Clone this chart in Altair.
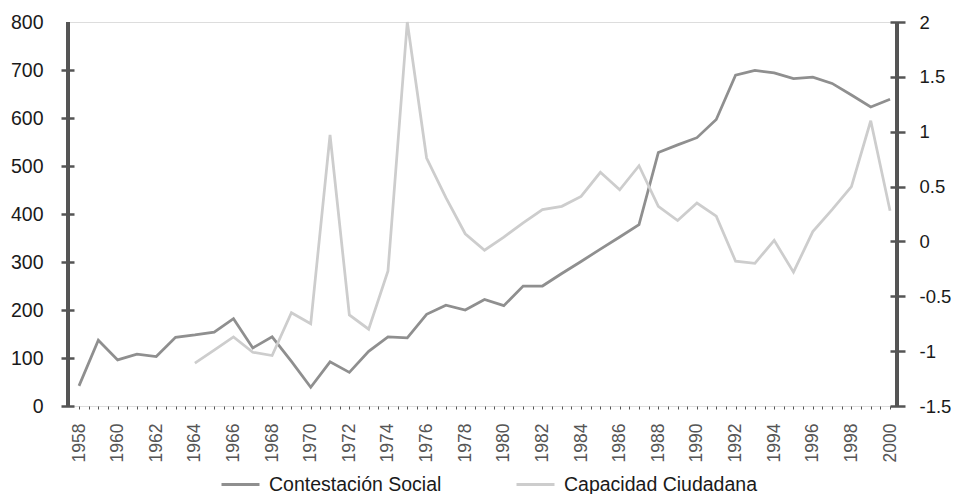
import altair as alt
import pandas as pd

years = list(range(1958, 2001))
contestacion = [42, 137, 96, 108, 103, 143, 148, 154, 182, 121, 144, 93, 39, 92, 70,
                114, 144, 142, 191, 210, 200, 222, 209, 250, 250, 276, 301, 327, 352, 378,
                528, 544, 559, 597, 689, 699, 694, 682, 685, 672, 648, 623, 639]
capacidad = [None, None, None, None, None, None,
             -1.11, -0.99, -0.87, -1.01, -1.04, -0.65, -0.75, 0.97, -0.67, -0.80,
             -0.27, 2.0, 0.76, 0.40, 0.07, -0.08, 0.04, 0.17, 0.29, 0.32, 0.41,
             0.63, 0.47, 0.69, 0.32, 0.19, 0.35, 0.23, -0.18, -0.20, 0.01, -0.28,
             0.09, 0.29, 0.50, 1.10, 0.28]
series_names = ["Contestación Social", "Capacidad Ciudadana"]
left_ticks = [0, 100, 200, 300, 400, 500, 600, 700, 800]
right_ticks = [-1.5, -1, -0.5, 0, 0.5, 1, 1.5, 2]

df_c = pd.DataFrame({"year": years, "value": contestacion, "series": series_names[0]})
df_k = pd.DataFrame({"year": years, "value": capacidad, "series": series_names[1]}).dropna()

W, H = 829, 384
AXIS = "#555555"
FONT = "Liberation Sans"

x_enc = alt.X(
    "year:Q",
    scale=alt.Scale(domain=[1957.43, 2000.36], nice=False, zero=False),
    axis=alt.Axis(
        values=[1958 + 0.5 * i for i in range(85)],
        labelExpr="datum.value % 2 == 0 ? toString(datum.value) : ''",
        labelAngle=270, labelFontSize=17.5, labelColor="#555555", labelFont=FONT,
        labelPadding=14, labelOverlap=False, labelBound=False, labelFlush=False,
        domain=False, tickSize=3, tickColor=AXIS, tickWidth=1, grid=False, title=None,
    ),
)

color_enc = alt.Color(
    "series:N",
    scale=alt.Scale(domain=series_names, range=["#8f8f8f", "#cdcdcd"]),
    legend=alt.Legend(
        orient="none", legendX=152, legendY=442, direction="horizontal", columns=2,
        title=None, symbolType="stroke", symbolSize=1444, symbolStrokeWidth=3,
        labelFontSize=19.5, labelFont=FONT, labelColor="#1a1a1a", labelOffset=8,
        labelLimit=400, columnPadding=68,
    ),
)

left = alt.Chart(df_c).mark_line(strokeWidth=2.75).encode(
    x=x_enc,
    y=alt.Y(
        "value:Q",
        scale=alt.Scale(domain=[0, 800], nice=False),
        axis=alt.Axis(
            orient="left", values=left_ticks, domain=False, offset=-6, tickSize=13,
            tickWidth=2.5, tickColor=AXIS,
            tickOpacity={"condition": {"test": "datum.value == 800", "value": 0}, "value": 1},
            labelFontSize=19.5, labelFont=FONT, labelColor="#1a1a1a", labelPadding=18,
            grid=False, title=None,
        ),
    ),
    color=color_enc,
)

right = alt.Chart(df_k).mark_line(strokeWidth=2.75).encode(
    x=x_enc,
    y=alt.Y(
        "value:Q",
        scale=alt.Scale(domain=[-1.5, 2], nice=False, zero=False),
        axis=alt.Axis(
            orient="right", values=right_ticks, domain=False, offset=-7, tickSize=15,
            tickWidth=2.5, tickColor=AXIS, labelExpr="toString(datum.value)",
            labelFontSize=18.5, labelFont=FONT, labelColor="#1a1a1a", labelPadding=14,
            grid=False, title=None,
        ),
    ),
    color=color_enc,
)

left_line = alt.Chart(df_c).mark_rule(color=AXIS, strokeWidth=2.7).encode(
    x=alt.value(0), y=alt.value(0), y2=alt.value(H)
)
right_line = alt.Chart(df_c).mark_rule(color=AXIS, strokeWidth=2.7).encode(
    x=alt.value(W), y=alt.value(0), y2=alt.value(H)
)

chart = (
    alt.layer(left, right, left_line, right_line)
    .resolve_scale(y="independent")
    .properties(
        width=W, height=H,
        autosize=alt.AutoSizeParams(type="none"),
        padding={"left": 60, "top": 14, "right": 56, "bottom": 88},
    )
    .configure_view(stroke=None)
    .configure(background="white")
)

chart.save("out.html", embed_options={"renderer": "svg", "actions": False})
